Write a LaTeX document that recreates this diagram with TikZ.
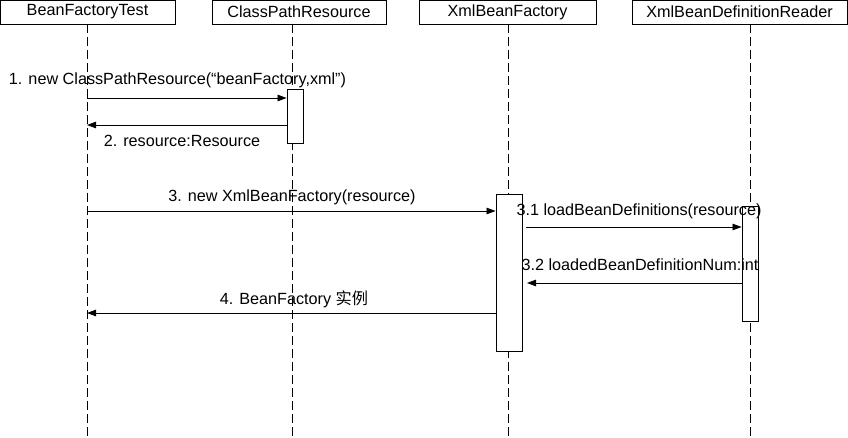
\documentclass[tikz,border=0pt]{standalone}
\usepackage{fontspec}
\setmainfont{Liberation Sans}
\newfontfamily\cjk{Noto Sans CJK SC}
\usepackage{tikz}
\usetikzlibrary{arrows.meta,calc,positioning}

\begin{document}
\begin{tikzpicture}[
    x=1pt, y=-1pt,
    font=\fontsize{16.2}{19}\selectfont,
    head/.style={draw=black, line width=0.9pt, minimum height=24pt, inner sep=0pt},
    act/.style={draw=black, fill=white, line width=0.9pt, inner sep=0pt},
    life/.style={line width=0.8pt, dash pattern=on 9pt off 4pt},
    msg/.style={-{Triangle[length=9pt,width=6.5pt]}, line width=0.8pt},
    lbl/.style={inner sep=0pt},
  ]
    \useasboundingbox (0,0) rectangle (848,438);

    % participants
    \node[head, minimum width=175pt] (test) at (87.5,12) {BeanFactoryTest};
    \node[head, minimum width=174pt] (cpr) at (299,12) {ClassPathResource};
    \node[head, minimum width=177pt] (xbf) at (507.5,12) {XmlBeanFactory};
    \node[head, minimum width=215pt] (reader) at (739.5,12) {XmlBeanDefinitionReader};

    % lifelines
    \coordinate (testtop) at (87,24);
    \coordinate (cprtop) at (292,24);
    \coordinate (xbftop) at (508,24);
    \coordinate (readertop) at (750,24);
    \foreach \p in {testtop,cprtop,xbftop,readertop}
      \draw[life] (\p) -- (\p |- 0,438);

    % activations
    \node[act, minimum width=16pt, minimum height=54pt] (cpract) at (295,116) {};
    \node[act, minimum width=26pt, minimum height=157pt] (xbfact) at (509,272.5) {};
    \node[act, minimum width=16pt, minimum height=115pt] (readeract) at (750,263.5) {};

    % messages
    \coordinate (m1) at (87,98);
    \draw[msg] (m1) -- (m1 -| cpract.west);
    \node[lbl] (l1) at (177.5,80) {1. new ClassPathResource(“beanFactory,xml”)};

    \coordinate (m2) at (87,125);
    \draw[msg] (m2 -| cpract.west) -- (m2);
    \node[lbl] (l2) at (182,141) {2. resource:Resource};

    \coordinate (m3) at (87,211);
    \draw[msg] (m3) -- (m3 -| xbfact.west);
    \node[lbl] (l3) at (292,197) {3. new XmlBeanFactory(resource)};

    \coordinate (m31) at (526,227);
    \draw[msg] (m31) -- (m31 -| readeract.west);
    \node[lbl] (l31) at (639,211) {3.1 loadBeanDefinitions(resource)};

    \coordinate (m32) at (527,283);
    \draw[msg] (m32 -| readeract.west) -- (m32);
    \node[lbl] (l32) at (640,265) {3.2 loadedBeanDefinitionNum:int};

    \coordinate (m4) at (87,313);
    \draw[msg] (m4 -| xbfact.west) -- (m4);
    \node[lbl] (l4) at (294,299) {4. BeanFactory {\cjk 实例}};
  \end{tikzpicture}
\end{document}
